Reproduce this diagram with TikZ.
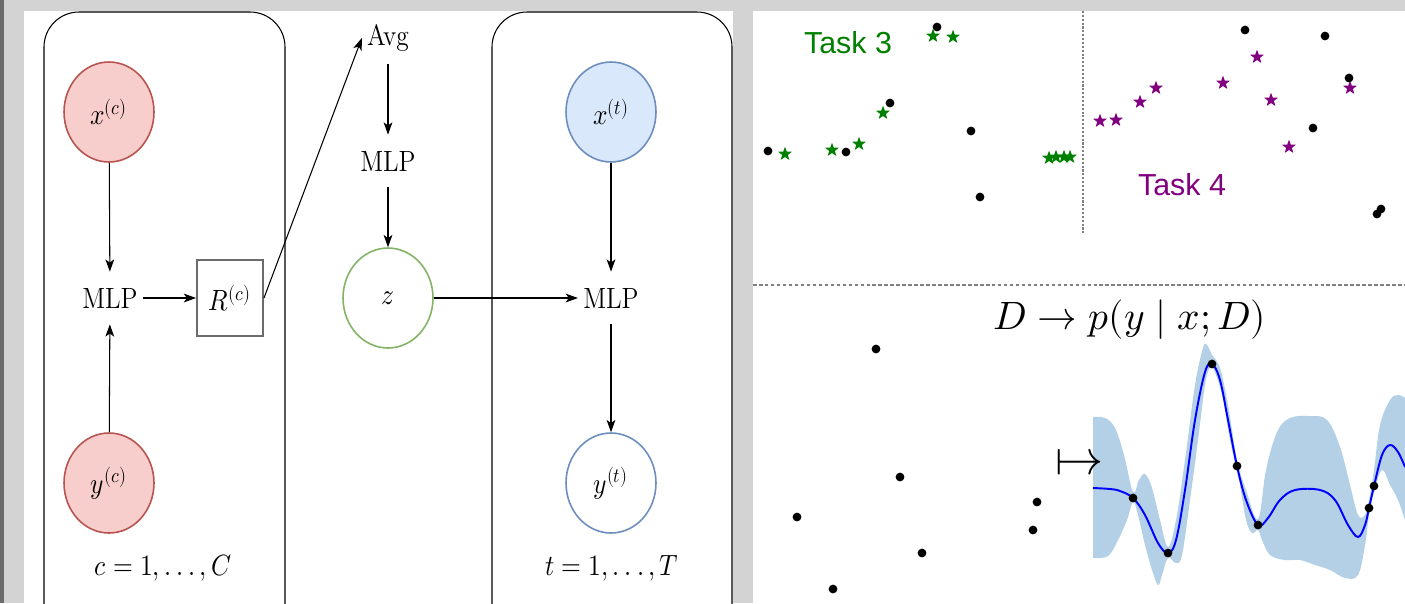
\documentclass[tikz,border=0pt]{standalone}
\usepackage{amsmath,amssymb}
\usepackage{fontspec}
\usepackage{unicode-math}
\setmathfont{Latin Modern Math}
\newfontfamily\tasksf{Liberation Sans}
\usepackage{graphicx}
\usepackage{tikz}
\usetikzlibrary{arrows.meta, positioning, shapes.geometric}

\definecolor{redfill}{HTML}{F8CECC}
\definecolor{reddraw}{HTML}{B85450}
\definecolor{bluefill}{HTML}{DAE8FC}
\definecolor{bluedraw}{HTML}{6C8EBF}
\definecolor{greendraw}{HTML}{82B366}
\definecolor{bggray}{HTML}{D3D3D3}
\definecolor{edgegray}{HTML}{6B6B6B}
\definecolor{taskgreen}{HTML}{008000}
\definecolor{taskpurple}{HTML}{800080}
\definecolor{gpband}{HTML}{B4D0E6}

% stretched labels of the left panel
\newcommand{\tall}[1]{\scalebox{1}[1.15]{#1}}
\newcommand{\wdots}{\mathinner{.\kern0.2em.\kern0.2em.}}

\tikzstyle{arrow} = [-{Stealth[length=7pt, width=5pt, inset=1.8pt]}, line width=0.6pt]
\tikzstyle{var} = [ellipse, minimum width=1.8cm, minimum height=2cm, inner sep=0pt, line width=0.9pt]
\tikzstyle{mlp} = [minimum height=1.04cm, inner xsep=0.1cm, inner ysep=0pt]
\tikzstyle{plate} = [rounded corners=0.7cm, line width=0.6pt]
\tikzstyle{tstar} = [star, star points=5, star point ratio=2.4, minimum size=0.29cm, inner sep=0pt]

\begin{document}
\begin{tikzpicture}[x=0.02cm, y=-0.02cm, font=\fontsize{14.5}{17}\selectfont]

\useasboundingbox (0, 0) rectangle (1405, 603);
\clip (0, 0) rectangle (1405, 603);

% Panels
\fill [bggray] (0, 0) rectangle (1405, 603);
\fill [edgegray] (0, 0) rectangle (4, 603);
\fill [white] (24, 11) rectangle (733, 603);
\fill [white] (753, 11) rectangle (1405, 603);

% Plates
\draw [plate] (44, 12) rectangle (285, 640);
\draw [plate] (492, 12) rectangle (732, 640);
\node (cplate) at (163, 568) {\tall{$c = 1, \wdots, C$}};
\node (tplate) at (612, 568) {\tall{$t = 1, \wdots, T$}};

% Context side
\node [var, draw=reddraw, fill=redfill] (xc) at (109, 112) {\tall{$x^{(c)}$}};
\node [var, draw=reddraw, fill=redfill] (yc) at (109, 483) {\tall{$y^{(c)}$}};
\node [mlp] (mlpc) at (110, 298) {\tall{MLP}};
\node [draw=edgegray, line width=1.1pt, minimum width=1.32cm, minimum height=1.52cm, inner sep=0pt] (r) at (230, 298) {\tall{$R^{(c)}$}};

\draw [arrow] (xc) -- (mlpc);
\draw [arrow] (yc) -- (mlpc);
\draw [arrow] (mlpc) -- (r);

% Aggregation
\node [mlp] (avg) at (388, 38) {\tall{Avg}};
\node [mlp] (mlpz) at (388, 161) {\tall{MLP}};
\node [var, draw=greendraw, fill=white] (z) at (388, 298) {\tall{$z$}};

\draw [arrow] (r.east) -- (avg.west);
\draw [arrow] (avg) -- (mlpz);
\draw [arrow] (mlpz) -- (z);

% Target side
\node [var, draw=bluedraw, fill=bluefill] (xt) at (611, 112) {\tall{$x^{(t)}$}};
\node [mlp] (mlpt) at (611, 298) {\tall{MLP}};
\node [var, draw=bluedraw, fill=white] (yt) at (611, 483) {\tall{$y^{(t)}$}};

\draw [arrow] (z) -- (mlpt);
\draw [arrow] (xt) -- (mlpt);
\draw [arrow] (mlpt) -- (yt);

% Task panels
\draw [gray, line width=0.8pt, dash pattern=on 1.2pt off 1pt] (1083, 11) -- (1083, 235);
\draw [gray, line width=0.6pt, dash pattern=on 2pt off 1.4pt] (753, 285) -- (1405, 285);

\node [anchor=base, text=taskgreen, font=\tasksf\fontsize{17.3}{20}\selectfont] (task3) at (848, 53) {Task 3};
\node [anchor=base, text=taskpurple, font=\tasksf\fontsize{17.3}{20}\selectfont] (task4) at (1182, 195) {Task 4};

\foreach \p [count=\i] in {(785, 154), (832, 150), (859, 144), (883, 113), (933, 36), (953, 37),
    (1049, 158), (1056, 157), (1064, 157), (1070, 157)}
  \node [tstar, fill=taskgreen] (g\i) at \p {};
\foreach \p [count=\i] in {(1100, 121), (1116, 120), (1140, 102), (1156, 88), (1223, 83),
    (1257, 57), (1271, 100), (1289, 147), (1350, 88)}
  \node [tstar, fill=taskpurple] (m\i) at \p {};
\foreach \p in {(768, 151), (846, 152), (890, 103), (937, 27), (971, 131), (980, 197),
    (1245, 30), (1325, 36), (1349, 78), (1313, 128), (1377, 214), (1381, 209)}
  \fill \p circle (2.5pt);

% Context set
\foreach \p in {(876, 349), (900, 477), (797, 517), (1037, 502), (1033, 530), (922, 553), (833, 589)}
  \fill \p circle (2.5pt);

\node [anchor=base] (title) at (1130, 329) {\fontsize{22.5}{27}\selectfont $D \to p(y \mid x; D)$};

% Predictive
\fill [gpband] plot [smooth, tension=0.6] coordinates {(1093, 417) (1105, 418) (1115, 428) (1124, 455) (1133, 492)
    (1139, 480) (1145, 474) (1152, 488) (1160, 520) (1168, 547) (1176, 520) (1185, 460) (1195, 385)
    (1203, 348) (1207, 345) (1212, 355) (1220, 368) (1228, 405) (1237, 460) (1246, 490) (1258, 519)
    (1266, 470) (1277, 432) (1290, 418) (1310, 416) (1327, 420) (1340, 447) (1350, 485) (1358, 515)
    (1365, 515) (1369, 500) (1374, 470) (1380, 425) (1390, 400) (1398, 395) (1405, 398)}
  -- plot [smooth, tension=0.6] coordinates {(1405, 520) (1398, 500) (1390, 485) (1382, 470) (1374, 492)
    (1369, 515) (1365, 545) (1358, 575) (1345, 578) (1330, 570) (1315, 565) (1300, 560) (1285, 560)
    (1270, 555) (1262, 540) (1258, 530) (1252, 533) (1246, 520) (1240, 485) (1237, 472) (1230, 440)
    (1222, 395) (1214, 370) (1210, 367) (1205, 385) (1198, 440) (1190, 500) (1182, 555) (1176, 563)
    (1168, 558) (1162, 575) (1158, 585) (1152, 570) (1145, 545) (1138, 515) (1133, 502) (1127, 520)
    (1118, 540) (1108, 556) (1093, 558)} -- cycle;
\draw [blue, line width=1.1pt] plot [smooth, tension=0.6] coordinates {(1093, 488) (1110, 489) (1120, 491)
    (1133, 498) (1145, 515) (1158, 543) (1168, 553) (1176, 540) (1185, 490) (1195, 420) (1205, 372)
    (1212, 364) (1220, 380) (1228, 420) (1237, 466) (1246, 500) (1258, 525) (1268, 518) (1280, 500)
    (1295, 490) (1320, 490) (1335, 500) (1348, 525) (1358, 537) (1365, 525) (1369, 508) (1374, 486)
    (1382, 455) (1390, 445) (1398, 452) (1405, 467)};
\foreach \p in {(1133, 498), (1168, 553), (1212, 364), (1237, 466), (1258, 525), (1369, 508), (1374, 486)}
  \fill \p circle (2.5pt);

\node (maps) at (1080, 462) {\fontsize{28}{32}\selectfont $\mapsto$};

\end{tikzpicture}
\end{document}
